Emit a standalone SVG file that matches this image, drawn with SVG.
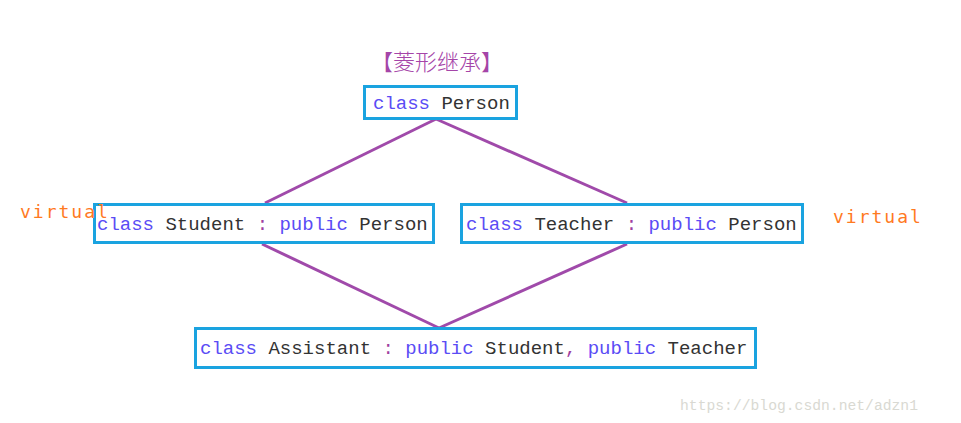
<svg xmlns="http://www.w3.org/2000/svg" width="961" height="423" viewBox="0 0 961 423">
<style>
.box{fill:#fff;stroke:#1aa3e0;stroke-width:3}
.code{font-family:"Liberation Mono","DejaVu Sans Mono",monospace;font-size:19px;fill:#333}
.kw{fill:#5a4cf5}
.op{fill:#a040a0}
.virt{font-family:"DejaVu Sans Mono","Liberation Mono",monospace;font-size:18px;fill:#ff7a1f;letter-spacing:2px}
.edge{stroke:#a04aaa;stroke-width:3;fill:none}
</style>
<rect width="961" height="423" fill="#fff"/>
<text x="437" y="70" text-anchor="middle" font-family="'Noto Sans CJK SC',sans-serif" font-size="22" font-weight="300" fill="#a545a8">【菱形继承】</text>
<g id="connectors">
<line class="edge" x1="436" y1="119" x2="265" y2="203"/>
<line class="edge" x1="436" y1="119" x2="627" y2="203"/>
<line class="edge" x1="262" y1="244" x2="439" y2="328"/>
<line class="edge" x1="627" y1="244" x2="439" y2="328"/>
</g>
<g id="person">
<rect class="box" x="364.5" y="86.5" width="152" height="32"/>
<text class="code" x="373" y="109"><tspan class="kw">class</tspan> Person</text>
</g>
<g id="student">
<rect class="box" x="94.5" y="204.5" width="339" height="38"/>
<text class="code" x="97" y="230"><tspan class="kw">class</tspan> Student <tspan class="op">:</tspan> <tspan class="kw">public</tspan> Person</text>
</g>
<g id="teacher">
<rect class="box" x="461.5" y="204.5" width="341" height="38"/>
<text class="code" x="466" y="230"><tspan class="kw">class</tspan> Teacher <tspan class="op">:</tspan> <tspan class="kw">public</tspan> Person</text>
</g>
<g id="assistant">
<rect class="box" x="195.5" y="328.5" width="560" height="39"/>
<text class="code" x="200" y="354"><tspan class="kw">class</tspan> Assistant <tspan class="op">:</tspan> <tspan class="kw">public</tspan> Student<tspan class="op">,</tspan> <tspan class="kw">public</tspan> Teacher</text>
</g>
<text class="virt" x="20" y="218">virtual</text>
<text class="virt" x="833" y="223">virtual</text>
<text x="680" y="410" font-family="'Liberation Mono',monospace" font-size="14.7" fill="#d9d9d2">https://blog.csdn.net/adzn1</text>
</svg>
